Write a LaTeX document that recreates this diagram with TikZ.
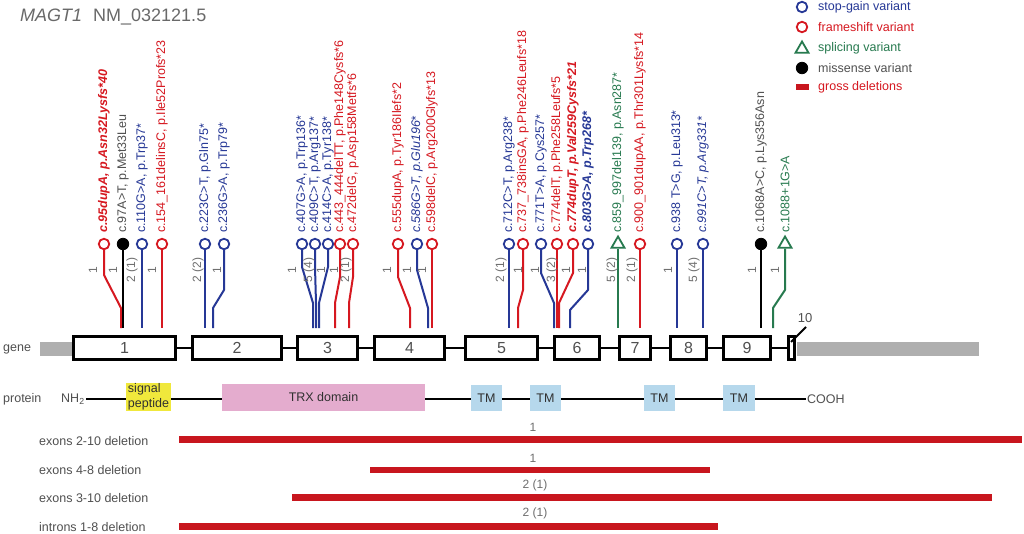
\documentclass[tikz,border=0pt]{standalone}
\usepackage{fontspec}
\setmainfont{Liberation Sans}
\usetikzlibrary{shapes.geometric}
\definecolor{vred}{RGB}{214,24,32}
\definecolor{vblue}{RGB}{38,56,150}
\definecolor{vgreen}{RGB}{39,122,79}
\definecolor{vblack}{RGB}{0,0,0}
\definecolor{vgray}{RGB}{80,80,80}
\definecolor{cgray}{RGB}{110,110,110}
\definecolor{tgray}{RGB}{105,105,105}
\definecolor{genegray}{RGB}{175,175,175}
\definecolor{sigyellow}{RGB}{240,232,60}
\definecolor{trxpink}{RGB}{228,172,206}
\definecolor{tmblue}{RGB}{182,216,236}
\definecolor{delred}{RGB}{200,22,30}
\newcommand\myfs[1]{\fontsize{#1pt}{#1pt}\selectfont}
\tikzset{
  mkc/.style={circle,fill=white,line width=1.8pt,minimum size=10.5pt,inner sep=0pt},
  mk vred/.style={mkc,draw=vred},
  mk vblue/.style={mkc,draw=vblue},
  mk vblack/.style={circle,fill=black,draw=black,line width=0.8pt,minimum size=11.5pt,inner sep=0pt},
  mk vgreen/.style={regular polygon,regular polygon sides=3,draw=vgreen,fill=white,line width=1.8pt,minimum size=15pt,inner sep=0pt},
  lab vred/.style={text=vred},
  lab vblue/.style={text=vblue},
  lab vgreen/.style={text=vgreen},
  lab vblack/.style={text=vgray},
  varlab/.style={rotate=90,anchor=west,inner sep=0pt,font=\myfs{12.5}},
  cntlab/.style={rotate=90,anchor=center,inner sep=0pt,text=cgray,font=\myfs{12}},
  stem/.style={line width=2pt,line join=round},
  exon/.style={draw,line width=2.7pt,fill=white,minimum height=23.3pt,inner sep=0pt,text=vgray,font=\myfs{16}},
  intron/.style={line width=1.6pt},
  rowlab/.style={anchor=west,inner sep=0pt,text=vgray,font=\myfs{12.5}},
  dom/.style={inner sep=0pt,font=\myfs{12.5},text=vgray!60!black},
  dcnt/.style={inner sep=0pt,text=cgray,font=\myfs{12}},
  leglab/.style={anchor=west,inner sep=0pt,font=\myfs{12.5}},
}
\newcommand\lollip[9]{%
  \node[mk #6] (#1) at (#2,244) {};
  \coordinate (#1a) at (#2,#4);
  \coordinate (#1b) at (#3,#5);
  \coordinate (#1c) at (#3,328);
  \draw[stem,draw=#6] (#1) -- (#1a) -- (#1b) -- (#1c);
  \node[varlab,lab #6] (#1t) at (#2,233) {#7};
  \node[cntlab] (#1n) at (#9,270) {#8};
}
\begin{document}
\begin{tikzpicture}[x=1pt,y=-1pt]
\useasboundingbox (0,0) rectangle (1024,533);
\fill[white] (0,0) rectangle (1024,533);
% title
\node[anchor=base west,inner sep=0pt,text=tgray,font=\myfs{18}\itshape] (t1) at (20,21) {MAGT1};
\node[anchor=base west,inner sep=0pt,text=tgray,font=\myfs{18}] (t2) at (93,21) {NM\_032121.5};
% legend
\node[mk vblue] (lg1) at (802,7) {};
\node[leglab,text=vblue] (lt1) at (818,7) {stop-gain variant};
\node[mk vred] (lg2) at (802,27) {};
\node[leglab,text=vred] (lt2) at (818,27) {frameshift variant};
\node[mk vgreen] (lg3) at (802,49) {};
\node[leglab,text=vgreen] (lt3) at (818,48) {splicing variant};
\node[mk vblack] (lg4) at (802,68) {};
\node[leglab,text=vgray] (lt4) at (818,68) {missense variant};
\fill[delred] (796,84) rectangle (809,90);
\node[leglab,text=vred] (lt5) at (818,87) {gross deletions};
% lollipops
\lollip{m1}{104}{121}{275}{308}{vred}{\bfseries\itshape c.95dupA, p.Asn32Lysfs*40}{1}{93}
\lollip{m2}{123}{123}{300}{300}{vblack}{c.97A>T, p.Met33Leu}{1}{113}
\lollip{m3}{142}{142}{300}{300}{vblue}{c.110G>A, p.Trp37*}{2 (1)}{132}
\lollip{m4}{162}{162}{300}{300}{vred}{c.154\_161delinsC, p.Ile52Profs*23}{1}{152}
\lollip{m5}{205}{205}{300}{300}{vblue}{c.223C>T, p.Gln75*}{2 (2)}{198}
\lollip{m6}{224}{213}{290}{308}{vblue}{c.236G>A, p.Trp79*}{1}{217}
\lollip{m7}{302}{313}{267}{303}{vblue}{c.407G>A, p.Trp136*}{1}{292}
\lollip{m8}{315}{316}{267}{303}{vblue}{c.409C>T, p.Arg137*}{5 (4)}{309}
\lollip{m9}{328}{319}{267}{303}{vblue}{c.414C>A, p.Tyr138*}{1}{321}
\lollip{m10}{340}{335}{277}{303}{vred}{c.443\_444delTT, p.Phe148Cysfs*6}{1}{334}
\lollip{m11}{353}{349}{277}{303}{vred}{c.472delG, p.Asp158Metfs*6}{2 (1)}{346}
\lollip{m12}{398}{410}{277}{308}{vred}{c.555dupA, p.Tyr186Ilefs*2}{1}{387}
\lollip{m13}{417}{428}{270}{308}{vblue}{\itshape c.586G>T, p.Glu196*}{1}{407}
\lollip{m14}{432}{432}{300}{300}{vred}{c.598delC, p.Arg200Glyfs*13}{1}{422}
\lollip{m15}{509}{509}{300}{300}{vblue}{c.712C>T, p.Arg238*}{2 (1)}{501}
\lollip{m16}{523}{518}{290}{308}{vred}{c.737\_738insGA, p.Phe246Leufs*18}{1}{518}
\lollip{m17}{541}{554}{273}{303}{vblue}{c.771T>A, p.Cys257*}{1}{535}
\lollip{m18}{557}{557}{300}{300}{vred}{c.774delT, p.Phe258Leufs*5}{3 (2)}{552}
\lollip{m19}{573}{559}{273}{303}{vred}{\bfseries\itshape c.774dupT, p.Val259Cysfs*21}{1}{566}
\lollip{m20}{588}{570}{290}{310}{vblue}{\bfseries\itshape c.803G>A, p.Trp268*}{1}{582}
\lollip{m21}{618}{618}{300}{300}{vgreen}{c.859\_997del139, p.Asn287*}{5 (2)}{612}
\lollip{m22}{640}{640}{300}{300}{vred}{c.900\_901dupAA, p.Thr301Lysfs*14}{2 (1)}{632}
\lollip{m23}{677}{677}{300}{300}{vblue}{c.938 T>G, p.Leu313*}{1}{668}
\lollip{m24}{703}{703}{300}{300}{vblue}{\itshape c.991C>T, p.Arg331*}{5 (4)}{694}
\lollip{m25}{761}{761}{300}{300}{vblack}{c.1068A>C, p.Lys356Asn}{1}{752}
\lollip{m26}{785}{773}{290}{308}{vgreen}{c.1088+1G>A}{1}{775}
% gene row
\node[rowlab] (glab) at (3,349) {gene};
\fill[genegray] (40,342) rectangle (72,356);
\fill[genegray] (797,342) rectangle (979,356);
\node[exon,minimum width=102.3pt] (e1) at (124.5,348) {1};
\node[exon,minimum width=89.3pt] (e2) at (237,348) {2};
\node[exon,minimum width=60.3pt] (e3) at (327.5,348) {3};
\node[exon,minimum width=70.3pt] (e4) at (409.5,348) {4};
\node[exon,minimum width=72.3pt] (e5) at (501.5,348) {5};
\node[exon,minimum width=45.3pt] (e6) at (577,348) {6};
\node[exon,minimum width=31.3pt] (e7) at (635,348) {7};
\node[exon,minimum width=36.3pt] (e8) at (688.5,348) {8};
\node[exon,minimum width=47.3pt] (e9) at (747,348) {9};
\node[exon,minimum width=6.3pt] (e10) at (791.5,348) {};
\foreach \a/\b in {e1/e2,e2/e3,e3/e4,e4/e5,e5/e6,e6/e7,e7/e8,e8/e9,e9/e10}
  \draw[intron] (\a) -- (\b);
\node[inner sep=0pt,text=vgray,font=\myfs{13}] (n10) at (805,318) {10};
\coordinate (t10a) at (791,342);
\coordinate (t10b) at (806,327);
\draw[line width=2pt] (t10a) -- (t10b);
% protein row
\node[rowlab] (plab) at (3,399) {protein};
\node[anchor=west,inner sep=1.5pt,text=vgray,font=\myfs{12.5}] (nh) at (59.5,399) {NH\textsubscript{2}};
\node[anchor=west,inner sep=1pt,text=vgray,font=\myfs{12.5}] (cooh) at (806,399) {COOH};
\draw[line width=2pt] (nh.east) -- (cooh.west);
\node[dom,fill=sigyellow,minimum width=45pt,minimum height=28pt,align=left,font={\fontsize{12.5pt}{15pt}\selectfont}] (sp) at (148.5,397) {signal\\peptide};
\node[dom,fill=trxpink,minimum width=203pt,minimum height=27pt] (trx) at (323.5,397.5) {TRX domain};
\node[dom,fill=tmblue,minimum width=31pt,minimum height=26pt] (tm1) at (486.5,398) {TM};
\node[dom,fill=tmblue,minimum width=31pt,minimum height=26pt] (tm2) at (545.5,398) {TM};
\node[dom,fill=tmblue,minimum width=31pt,minimum height=26pt] (tm3) at (659.5,398) {TM};
\node[dom,fill=tmblue,minimum width=32pt,minimum height=26pt] (tm4) at (739,398) {TM};
% deletions
\node[rowlab] (dl1) at (39,441) {exons 2-10 deletion};
\node[rowlab] (dl2) at (39,470) {exons 4-8 deletion};
\node[rowlab] (dl3) at (39,498) {exons 3-10 deletion};
\node[rowlab] (dl4) at (39,527) {introns 1-8 deletion};
\fill[delred] (179,436) rectangle (1022,443);
\fill[delred] (370,467) rectangle (710,473);
\fill[delred] (292,494) rectangle (992,501);
\fill[delred] (179,523) rectangle (718,530);
\node[dcnt] (dc1) at (533,427) {1};
\node[dcnt] (dc2) at (533,458) {1};
\node[dcnt] (dc3) at (535,485) {2 (1)};
\node[dcnt] (dc4) at (535,513) {2 (1)};
\end{tikzpicture}
\end{document}
